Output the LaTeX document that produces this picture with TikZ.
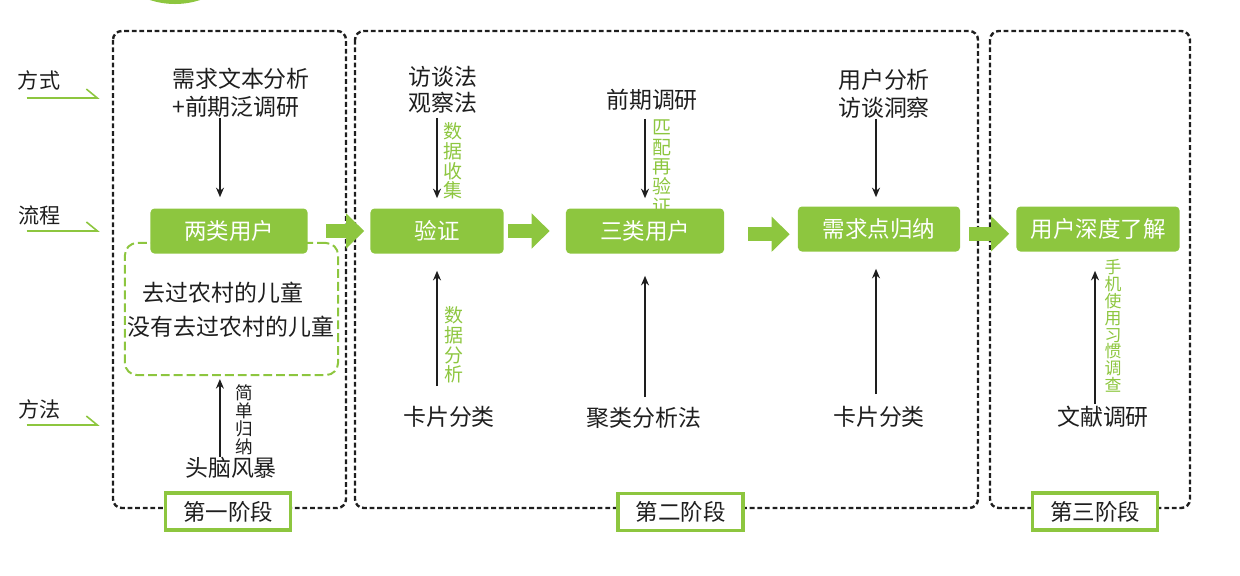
\documentclass[tikz,border=0pt]{standalone}
\usepackage{fontspec}
\setmainfont{Noto Sans CJK SC}
\usetikzlibrary{arrows.meta,positioning}
\definecolor{leaf}{RGB}{141,198,63}
\definecolor{ink}{RGB}{30,30,30}

\tikzset{
  usernode/.style={fill=leaf,rounded corners=0.1cm,text=white,minimum height=1.125cm,
    font=\fontsize{16}{18}\selectfont},
  stagebox/.style={draw=leaf,line width=0.09cm,fill=white,minimum width=3.13cm,
    minimum height=0.92cm,text=ink,font=\fontsize{16}{18}\selectfont},
  phasebox/.style={draw=ink,line width=0.06cm,dash pattern=on 0.12cm off 0.07cm,rounded corners=0.22cm},
  groupbox/.style={draw=leaf,line width=0.05cm,dash pattern=on 0.22cm off 0.1cm,rounded corners=0.3cm,
    minimum width=5.325cm,minimum height=3.3cm},
  txt/.style={text=ink,inner sep=0pt,align=center,font=\fontsize{16.3}{20}\selectfont},
  vnote/.style={text=leaf,inner sep=0pt,align=center,font=\fontsize{13.5}{14}\selectfont},
  link/.style={ink,line width=0.035cm,-{Stealth[length=0.24cm,width=0.2cm]}},
  flowarrow/.style={leaf,line width=0.35cm,-{Triangle[length=0.45cm,width=0.85cm]}},
  hintline/.style={leaf,line width=0.04cm,-{Straight Barb[left,length=0.275cm,width=0.45cm]}},
}

\begin{document}
\begin{tikzpicture}[x=0.025cm,y=-0.025cm]
  \useasboundingbox (0,0) rectangle (1240,575);
  % top decoration
  \begin{scope}
    \clip (0,0) rectangle (1240,575);
    \fill[leaf] (175,-76) circle (80);
  \end{scope}

  % three phases
  \draw[phasebox] (113,31) rectangle (346,508);
  \draw[phasebox] (355,31) rectangle (978,508);
  \draw[phasebox] (990,31) rectangle (1190,508);

  % row labels
  \node[txt,font=\fontsize{15}{18}\selectfont] (way) at (39,80) {方式};
  \node[txt,font=\fontsize{15}{18}\selectfont] (proc) at (40,215) {流程};
  \node[txt,font=\fontsize{15}{18}\selectfont] (meth) at (40,409) {方法};
  \draw[hintline] (way.south west) ++(9,8) -- ++(73,0);
  \draw[hintline] (proc.south west) ++(8,6) -- ++(73,0);
  \draw[hintline] (meth.south west) ++(8,6) -- ++(73,0);

  % first phase
  \node[groupbox] (grp) at (231.5,309) {};
  \node[txt] (kid1) at (223,293) {去过农村的儿童};
  \node[txt] (kid2) at (231,327) {没有去过农村的儿童};
  \node[vnote,text=ink,font=\fontsize{12.5}{12.8}\selectfont] (n1b) at (244,419.5) {简\\单\\归\\纳};

  % hidden part of the label goes under the node
  \node[vnote] (n3a) at (662,167) {匹\\配\\再\\验\\证};

  % main flow
  \node[usernode,minimum width=3.925cm] (n1) at (229,231) {两类用户};
  \node[usernode,minimum width=3.325cm] (n2) at (437,231) {验证};
  \node[usernode,minimum width=3.95cm] (n3) at (645,231) {三类用户};
  \node[usernode,minimum width=4.05cm] (n4) at (879,229) {需求点归纳};
  \node[usernode,minimum width=4.075cm] (n5) at (1098,229) {用户深度了解};

  \draw[flowarrow,shorten <=0.45cm,shorten >=0.15cm] (n1) -- (n2);
  \draw[flowarrow,shorten <=0.1cm,shorten >=0.4cm] (n2) -- (n3);
  \draw[flowarrow,shorten <=0.6cm,shorten >=0.2cm] ([yshift=-0.08cm]n3.east) -- ([yshift=-0.08cm]n3.east -| n4.west);
  \draw[flowarrow,shorten <=0.225cm,shorten >=0.175cm] ([yshift=-0.12cm]n4.east) -- ([yshift=-0.12cm]n4.east -| n5.west);

  % methods above
  \node[txt,anchor=west,align=left,font=\fontsize{16.3}{20}\selectfont] (src1) at (172,93) {需求文本分析\\+前期泛调研};
  \node[txt,font=\fontsize{16.3}{18.5}\selectfont] (src2) at (443,90) {访谈法\\观察法};
  \node[txt] (src3) at (652,100) {前期调研};
  \node[txt,font=\fontsize{16.3}{20}\selectfont] (src4) at (884,94) {用户分析\\访谈洞察};

  % methods below
  \node[txt] (m1) at (231,468) {头脑风暴};
  \node[txt] (m2) at (449,417) {卡片分类};
  \node[txt] (m3) at (644,418) {聚类分析法};
  \node[txt] (m4) at (879,417) {卡片分类};
  \node[txt] (m5) at (1103,417) {文献调研};

  \node[vnote] (n2a) at (453,161) {数\\据\\收\\集};
  \node[vnote] (n2b) at (454,345) {数\\据\\分\\析};
  \node[vnote,font=\fontsize{12}{12}\selectfont] (n5b) at (1113,326) {手\\机\\使\\用\\习\\惯\\调\\查};

  % thin arrows
  \draw[link,shorten >=0.275cm] ([xshift=-0.225cm]n1.north |- src1.south) -- ([xshift=-0.225cm]n1.north);
  \draw[link,shorten >=0.075cm] ([xshift=-0.29cm]grp.south |- m1.north) -- ([xshift=-0.29cm]grp.south);
  \draw[link,shorten <=0.1cm,shorten >=0.25cm] (src2.south -| n2.north) -- (n2.north);
  \draw[link,shorten <=0.5cm,shorten >=0.425cm] (m2.north -| n2.south) -- (n2.south);
  \draw[link,shorten <=0.2cm,shorten >=0.25cm] (src3.south -| n3.north) -- (n3.north);
  \draw[link,shorten <=0.25cm,shorten >=0.55cm] (m3.north -| n3.south) -- (n3.south);
  \draw[link,shorten >=0.225cm] ([xshift=-0.075cm]n4.north |- src4.south) -- ([xshift=-0.075cm]n4.north);
  \draw[link,shorten <=0.3cm,shorten >=0.425cm] ([xshift=-0.075cm]n4.south |- m4.north) -- ([xshift=-0.075cm]n4.south);
  \draw[link,shorten <=0.05cm,shorten >=0.475cm] ([xshift=-0.075cm]n5.south |- m5.north) -- ([xshift=-0.075cm]n5.south);

  % stage labels
  \node[stagebox] (st1) at (228,511.5) {第一阶段};
  \node[stagebox] (st2) at (680.5,512) {第二阶段};
  \node[stagebox] (st3) at (1095,511.5) {第三阶段};
\end{tikzpicture}
\end{document}
